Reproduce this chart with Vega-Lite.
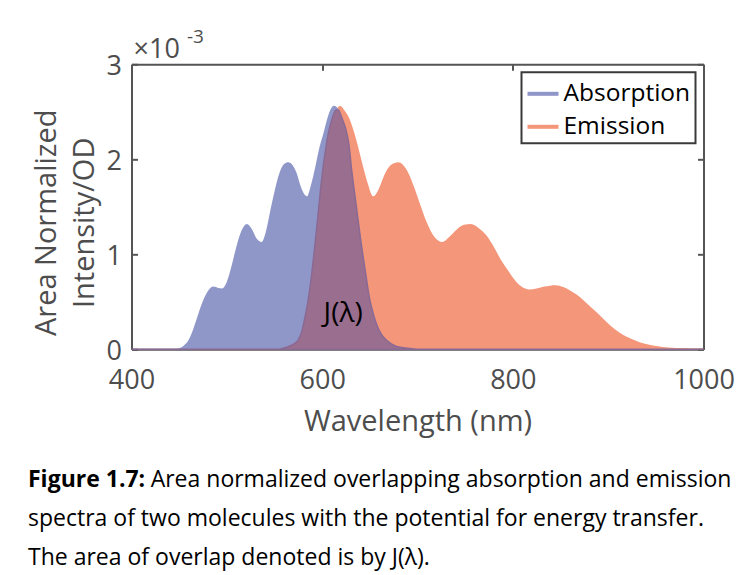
{
  "$schema": "https://vega.github.io/schema/vega-lite/v6.json",
  "width": 572,
  "height": 285,
  "autosize": {"type": "none"},
  "padding": {"left": 131.5, "top": 64.3, "right": 38.5, "bottom": 225.7},
  "background": "white",
  "config": {
    "view": {"stroke": null},
    "font": "Open Sans",
    "axis": {
      "domainColor": "#555555", "domainWidth": 2, "tickColor": "#555555", "tickWidth": 2, "tickSize": -6,
      "grid": false, "labelColor": "#4d4d4d", "titleColor": "#4d4d4d", "labelFont": "Open Sans", "titleFont": "Open Sans",
      "labelFontSize": 27, "titleFontSize": 29, "titleFontWeight": "normal", "labelFlush": false, "labelOverlap": false
    },
    "legend": {
      "title": null, "orient": "top-right", "offset": 8, "strokeColor": "#3a3a3a", "strokeWidth": 2, "fillColor": "white",
      "padding": 5, "labelFontSize": 24.5, "labelColor": "black", "labelFont": "Open Sans",
      "symbolType": "M-1,-0.13H1V0.13H-1Z", "symbolSize": 961, "rowPadding": 5, "labelOffset": 4, "symbolOpacity": 1
    }
  },
  "title": {
    "text": "Figure 1.7:",
    "subtitle": ["\u200b\u2003\u2003\u2003\u2003\u2003\u2004Area normalized overlapping absorption and emission", "spectra of two molecules with the potential for energy transfer.", "The area of overlap denoted is by J(λ)."],
    "orient": "bottom", "anchor": "start", "frame": "group", "dx": -103.5, "offset": 33,
    "font": "Open Sans", "fontSize": 23, "fontWeight": "bold", "color": "black",
    "subtitleFont": "Open Sans", "subtitleFontSize": 23, "subtitleFontWeight": "normal", "subtitleColor": "black",
    "subtitleLineHeight": 39, "subtitlePadding": -23
  },
  "data": {"values": [
    {"wavelength": 400, "series": "Emission", "intensity": 0},
    {"wavelength": 500, "series": "Emission", "intensity": 0},
    {"wavelength": 550, "series": "Emission", "intensity": 0.005},
    {"wavelength": 560, "series": "Emission", "intensity": 0.015},
    {"wavelength": 565, "series": "Emission", "intensity": 0.03},
    {"wavelength": 570, "series": "Emission", "intensity": 0.055},
    {"wavelength": 575, "series": "Emission", "intensity": 0.10},
    {"wavelength": 579, "series": "Emission", "intensity": 0.20},
    {"wavelength": 582, "series": "Emission", "intensity": 0.34},
    {"wavelength": 585, "series": "Emission", "intensity": 0.50},
    {"wavelength": 588, "series": "Emission", "intensity": 0.71},
    {"wavelength": 592, "series": "Emission", "intensity": 1.06},
    {"wavelength": 595.5, "series": "Emission", "intensity": 1.40},
    {"wavelength": 599, "series": "Emission", "intensity": 1.75},
    {"wavelength": 603.5, "series": "Emission", "intensity": 2.10},
    {"wavelength": 607, "series": "Emission", "intensity": 2.30},
    {"wavelength": 610.5, "series": "Emission", "intensity": 2.43},
    {"wavelength": 614.5, "series": "Emission", "intensity": 2.52},
    {"wavelength": 619, "series": "Emission", "intensity": 2.56},
    {"wavelength": 623, "series": "Emission", "intensity": 2.52},
    {"wavelength": 628, "series": "Emission", "intensity": 2.44},
    {"wavelength": 633, "series": "Emission", "intensity": 2.30},
    {"wavelength": 638, "series": "Emission", "intensity": 2.12},
    {"wavelength": 643, "series": "Emission", "intensity": 1.92},
    {"wavelength": 648, "series": "Emission", "intensity": 1.74},
    {"wavelength": 653.5, "series": "Emission", "intensity": 1.61},
    {"wavelength": 659, "series": "Emission", "intensity": 1.68},
    {"wavelength": 665, "series": "Emission", "intensity": 1.83},
    {"wavelength": 672, "series": "Emission", "intensity": 1.94},
    {"wavelength": 680, "series": "Emission", "intensity": 1.97},
    {"wavelength": 688, "series": "Emission", "intensity": 1.90},
    {"wavelength": 696, "series": "Emission", "intensity": 1.72},
    {"wavelength": 703, "series": "Emission", "intensity": 1.52},
    {"wavelength": 710, "series": "Emission", "intensity": 1.33},
    {"wavelength": 718, "series": "Emission", "intensity": 1.18},
    {"wavelength": 726, "series": "Emission", "intensity": 1.13},
    {"wavelength": 734, "series": "Emission", "intensity": 1.19},
    {"wavelength": 742, "series": "Emission", "intensity": 1.27},
    {"wavelength": 749, "series": "Emission", "intensity": 1.31},
    {"wavelength": 756, "series": "Emission", "intensity": 1.32},
    {"wavelength": 765, "series": "Emission", "intensity": 1.27},
    {"wavelength": 773, "series": "Emission", "intensity": 1.19},
    {"wavelength": 780, "series": "Emission", "intensity": 1.08},
    {"wavelength": 787, "series": "Emission", "intensity": 0.95},
    {"wavelength": 795, "series": "Emission", "intensity": 0.83},
    {"wavelength": 802, "series": "Emission", "intensity": 0.73},
    {"wavelength": 809, "series": "Emission", "intensity": 0.66},
    {"wavelength": 817, "series": "Emission", "intensity": 0.63},
    {"wavelength": 825, "series": "Emission", "intensity": 0.64},
    {"wavelength": 833, "series": "Emission", "intensity": 0.66},
    {"wavelength": 845, "series": "Emission", "intensity": 0.675},
    {"wavelength": 853, "series": "Emission", "intensity": 0.655},
    {"wavelength": 860, "series": "Emission", "intensity": 0.62},
    {"wavelength": 868, "series": "Emission", "intensity": 0.57},
    {"wavelength": 878, "series": "Emission", "intensity": 0.48},
    {"wavelength": 889, "series": "Emission", "intensity": 0.38},
    {"wavelength": 898, "series": "Emission", "intensity": 0.29},
    {"wavelength": 907, "series": "Emission", "intensity": 0.21},
    {"wavelength": 915, "series": "Emission", "intensity": 0.155},
    {"wavelength": 924, "series": "Emission", "intensity": 0.11},
    {"wavelength": 933, "series": "Emission", "intensity": 0.075},
    {"wavelength": 942, "series": "Emission", "intensity": 0.05},
    {"wavelength": 952, "series": "Emission", "intensity": 0.033},
    {"wavelength": 963, "series": "Emission", "intensity": 0.02},
    {"wavelength": 980, "series": "Emission", "intensity": 0.01},
    {"wavelength": 1000, "series": "Emission", "intensity": 0.005},

    {"wavelength": 400, "series": "Absorption", "intensity": 0},
    {"wavelength": 445, "series": "Absorption", "intensity": 0},
    {"wavelength": 450, "series": "Absorption", "intensity": 0.01},
    {"wavelength": 455, "series": "Absorption", "intensity": 0.04},
    {"wavelength": 460, "series": "Absorption", "intensity": 0.10},
    {"wavelength": 465, "series": "Absorption", "intensity": 0.22},
    {"wavelength": 470, "series": "Absorption", "intensity": 0.37},
    {"wavelength": 475, "series": "Absorption", "intensity": 0.51},
    {"wavelength": 480, "series": "Absorption", "intensity": 0.61},
    {"wavelength": 486, "series": "Absorption", "intensity": 0.66},
    {"wavelength": 491, "series": "Absorption", "intensity": 0.645},
    {"wavelength": 495, "series": "Absorption", "intensity": 0.64},
    {"wavelength": 500, "series": "Absorption", "intensity": 0.71},
    {"wavelength": 505, "series": "Absorption", "intensity": 0.88},
    {"wavelength": 510, "series": "Absorption", "intensity": 1.08},
    {"wavelength": 515, "series": "Absorption", "intensity": 1.24},
    {"wavelength": 521, "series": "Absorption", "intensity": 1.32},
    {"wavelength": 526, "series": "Absorption", "intensity": 1.27},
    {"wavelength": 531, "series": "Absorption", "intensity": 1.17},
    {"wavelength": 536.5, "series": "Absorption", "intensity": 1.13},
    {"wavelength": 541, "series": "Absorption", "intensity": 1.24},
    {"wavelength": 545, "series": "Absorption", "intensity": 1.43},
    {"wavelength": 550, "series": "Absorption", "intensity": 1.66},
    {"wavelength": 555, "series": "Absorption", "intensity": 1.85},
    {"wavelength": 560, "series": "Absorption", "intensity": 1.95},
    {"wavelength": 564.5, "series": "Absorption", "intensity": 1.97},
    {"wavelength": 568, "series": "Absorption", "intensity": 1.95},
    {"wavelength": 573, "series": "Absorption", "intensity": 1.86},
    {"wavelength": 578, "series": "Absorption", "intensity": 1.70},
    {"wavelength": 584, "series": "Absorption", "intensity": 1.61},
    {"wavelength": 588, "series": "Absorption", "intensity": 1.72},
    {"wavelength": 593, "series": "Absorption", "intensity": 1.93},
    {"wavelength": 597, "series": "Absorption", "intensity": 2.12},
    {"wavelength": 601.5, "series": "Absorption", "intensity": 2.28},
    {"wavelength": 606, "series": "Absorption", "intensity": 2.45},
    {"wavelength": 609, "series": "Absorption", "intensity": 2.53},
    {"wavelength": 612.5, "series": "Absorption", "intensity": 2.565},
    {"wavelength": 616, "series": "Absorption", "intensity": 2.54},
    {"wavelength": 619, "series": "Absorption", "intensity": 2.48},
    {"wavelength": 622, "series": "Absorption", "intensity": 2.40},
    {"wavelength": 625, "series": "Absorption", "intensity": 2.31},
    {"wavelength": 628, "series": "Absorption", "intensity": 2.16},
    {"wavelength": 631, "series": "Absorption", "intensity": 1.88},
    {"wavelength": 635, "series": "Absorption", "intensity": 1.57},
    {"wavelength": 640, "series": "Absorption", "intensity": 1.18},
    {"wavelength": 645, "series": "Absorption", "intensity": 0.84},
    {"wavelength": 650, "series": "Absorption", "intensity": 0.52},
    {"wavelength": 654, "series": "Absorption", "intensity": 0.36},
    {"wavelength": 658, "series": "Absorption", "intensity": 0.24},
    {"wavelength": 662, "series": "Absorption", "intensity": 0.16},
    {"wavelength": 667, "series": "Absorption", "intensity": 0.10},
    {"wavelength": 672, "series": "Absorption", "intensity": 0.06},
    {"wavelength": 678, "series": "Absorption", "intensity": 0.03},
    {"wavelength": 690, "series": "Absorption", "intensity": 0.01},
    {"wavelength": 700, "series": "Absorption", "intensity": 0},
    {"wavelength": 1000, "series": "Absorption", "intensity": 0},

    {"wavelength": 400, "series": "Overlap", "intensity": 0},
    {"wavelength": 555, "series": "Overlap", "intensity": 0},
    {"wavelength": 560, "series": "Overlap", "intensity": 0.015},
    {"wavelength": 565, "series": "Overlap", "intensity": 0.03},
    {"wavelength": 570, "series": "Overlap", "intensity": 0.055},
    {"wavelength": 575, "series": "Overlap", "intensity": 0.10},
    {"wavelength": 579, "series": "Overlap", "intensity": 0.20},
    {"wavelength": 582, "series": "Overlap", "intensity": 0.34},
    {"wavelength": 585, "series": "Overlap", "intensity": 0.50},
    {"wavelength": 588, "series": "Overlap", "intensity": 0.71},
    {"wavelength": 592, "series": "Overlap", "intensity": 1.06},
    {"wavelength": 595.5, "series": "Overlap", "intensity": 1.40},
    {"wavelength": 599, "series": "Overlap", "intensity": 1.75},
    {"wavelength": 603.5, "series": "Overlap", "intensity": 2.10},
    {"wavelength": 607, "series": "Overlap", "intensity": 2.30},
    {"wavelength": 610.5, "series": "Overlap", "intensity": 2.43},
    {"wavelength": 614.5, "series": "Overlap", "intensity": 2.52},
    {"wavelength": 617, "series": "Overlap", "intensity": 2.52},
    {"wavelength": 619, "series": "Overlap", "intensity": 2.48},
    {"wavelength": 622, "series": "Overlap", "intensity": 2.40},
    {"wavelength": 625, "series": "Overlap", "intensity": 2.31},
    {"wavelength": 628, "series": "Overlap", "intensity": 2.16},
    {"wavelength": 631, "series": "Overlap", "intensity": 1.88},
    {"wavelength": 635, "series": "Overlap", "intensity": 1.57},
    {"wavelength": 640, "series": "Overlap", "intensity": 1.18},
    {"wavelength": 645, "series": "Overlap", "intensity": 0.84},
    {"wavelength": 650, "series": "Overlap", "intensity": 0.52},
    {"wavelength": 654, "series": "Overlap", "intensity": 0.36},
    {"wavelength": 658, "series": "Overlap", "intensity": 0.24},
    {"wavelength": 662, "series": "Overlap", "intensity": 0.16},
    {"wavelength": 667, "series": "Overlap", "intensity": 0.10},
    {"wavelength": 672, "series": "Overlap", "intensity": 0.06},
    {"wavelength": 678, "series": "Overlap", "intensity": 0.03},
    {"wavelength": 690, "series": "Overlap", "intensity": 0.01},
    {"wavelength": 700, "series": "Overlap", "intensity": 0},
    {"wavelength": 1000, "series": "Overlap", "intensity": 0}
  ]},
  "layer": [
    {
      "transform": [{"filter": "datum.series === 'Emission'"}],
      "mark": {"type": "area", "interpolate": "monotone"},
      "encoding": {
        "x": {"field": "wavelength", "type": "quantitative", "scale": {"domain": [400, 1000], "nice": false, "zero": false},
          "axis": {"orient": "bottom", "values": [400, 600, 800, 1000], "format": "d", "title": "Wavelength (nm)", "labelPadding": 24, "titlePadding": 14}},
        "y": {"field": "intensity", "type": "quantitative", "scale": {"domain": [0, 3], "nice": false},
          "axis": {"orient": "left", "values": [0, 1, 2, 3], "format": "d", "labelPadding": 16, "labelOffset": 2,
            "title": ["Area Normalized", "Intensity/OD"], "titleLineHeight": 38, "titleX": -76.5, "titleY": 158,
            "titleAlign": "center", "titleBaseline": "alphabetic", "titleAngle": -90}},
        "color": {"field": "series", "type": "nominal", "scale": {"domain": ["Absorption", "Emission"], "range": ["#8f97c9", "#f4967a"]}}
      }
    },
    {
      "transform": [{"filter": "datum.series === 'Absorption'"}],
      "mark": {"type": "area", "interpolate": "monotone"},
      "encoding": {
        "x": {"field": "wavelength", "type": "quantitative",
          "axis": {"orient": "top", "values": [400, 600, 800, 1000], "labels": false, "title": "×10", "titleFontSize": 27,
            "titleX": 1.5, "titleY": -7, "titleAlign": "left", "titleBaseline": "alphabetic", "titleAngle": 0}},
        "y": {"field": "intensity", "type": "quantitative",
          "axis": {"orient": "right", "values": [0, 1, 2, 3], "labels": false, "title": "-3", "titleFontSize": 19,
            "titleX": -517, "titleY": -22.3, "titleAlign": "left", "titleBaseline": "alphabetic", "titleAngle": 0}},
        "color": {"field": "series", "type": "nominal"}
      }
    },
    {
      "transform": [{"filter": "datum.series === 'Overlap'"}],
      "mark": {"type": "area", "interpolate": "monotone", "color": "#9a6e8f", "stroke": "#8a6a94", "strokeWidth": 1.5},
      "encoding": {
        "x": {"field": "wavelength", "type": "quantitative", "axis": null},
        "y": {"field": "intensity", "type": "quantitative", "axis": null}
      }
    },
    {
      "data": {"values": [{"wavelength": 622, "intensity": 0.37, "label": "J(λ)"}]},
      "mark": {"type": "text", "font": "Open Sans", "fontSize": 28, "color": "black", "baseline": "middle", "align": "center"},
      "encoding": {
        "x": {"field": "wavelength", "type": "quantitative", "axis": null},
        "y": {"field": "intensity", "type": "quantitative", "axis": null},
        "text": {"field": "label"}
      }
    }
  ],
  "resolve": {"axis": {"x": "independent", "y": "independent"}}
}
